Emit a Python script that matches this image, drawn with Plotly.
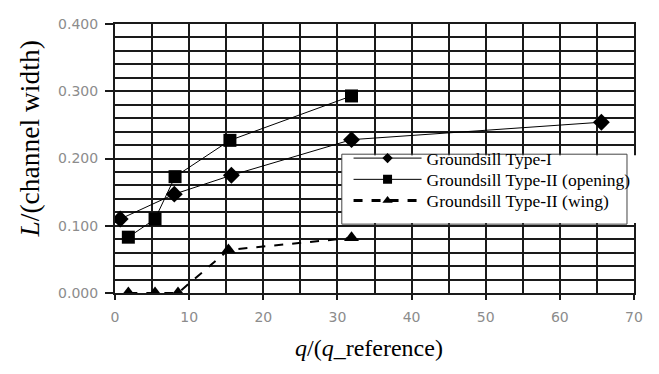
import plotly.graph_objects as go

# Data
type1_x = [0.7, 8.0, 15.7, 31.9, 65.6]
type1_y = [0.110, 0.147, 0.175, 0.228, 0.254]

open_x = [1.8, 5.4, 8.1, 15.5, 31.9]
open_y = [0.083, 0.110, 0.173, 0.227, 0.293]

wing_x = [1.8, 5.4, 8.5, 15.3, 31.9]
wing_y = [0.000, 0.000, 0.000, 0.064, 0.082]

series_names = ["Groundsill Type-I", "Groundsill Type-II (opening)", "Groundsill Type-II (wing)"]

x_title = "<i>q</i>/(<i>q</i>_reference)"
y_title = "<i>L</i>/(channel width)"

serif = "Liberation Serif, Times New Roman, serif"

styles = [
    dict(symbol="diamond", line=dict(color="black", width=1)),
    dict(symbol="square", line=dict(color="black", width=1)),
    dict(symbol="triangle-up", line=dict(color="black", width=2, dash="dash")),
]
legend_styles = [
    dict(symbol="diamond", size=8, line=dict(color="black", width=1)),
    dict(symbol="square", size=9, line=dict(color="black", width=1)),
    dict(symbol="triangle-up", size=9, line=dict(color="black", width=3, dash="dash")),
]
series = [(type1_x, type1_y), (open_x, open_y), (wing_x, wing_y)]
legend_ids = ["legend", "legend2", "legend3"]
legend_rows_y = [0.501, 0.422, 0.343]

fig = go.Figure()
for (xs, ys), st, name in zip(series, styles, series_names):
    fig.add_trace(go.Scatter(
        x=xs, y=ys, name=name, mode="lines+markers", showlegend=False,
        line=st["line"], marker=dict(symbol=st["symbol"], size=13, color="black"),
    ))
# legend-only entries with small symbols, one compact legend per row
for st, name, lid in zip(legend_styles, series_names, legend_ids):
    fig.add_trace(go.Scatter(
        x=[None], y=[None], name=name, mode="lines+markers", legend=lid,
        line=st["line"], marker=dict(symbol=st["symbol"], size=st["size"], color="black"),
    ))

grid_color = "#1a1a1a"
tick_font = dict(family="DejaVu Sans, sans-serif", size=14, color="#8c8c8c")

fig.update_xaxes(
    range=[0, 70], dtick=10, tick0=0,
    showgrid=True, gridcolor=grid_color, gridwidth=2,
    minor=dict(dtick=5, showgrid=True, gridcolor=grid_color, gridwidth=2),
    ticks="outside", ticklen=5, tickwidth=2, tickcolor=grid_color,
    showline=True, linecolor=grid_color, linewidth=2, mirror=True,
    zeroline=False, tickfont=tick_font, ticklabelstandoff=5,
)
fig.update_yaxes(
    range=[0, 0.4], dtick=0.1, tick0=0, tickformat=".3f",
    showgrid=True, gridcolor=grid_color, gridwidth=2,
    minor=dict(dtick=0.02, showgrid=True, gridcolor=grid_color, gridwidth=2),
    ticks="outside", ticklen=8, tickwidth=2, tickcolor=grid_color,
    showline=True, linecolor=grid_color, linewidth=2, mirror=True,
    zeroline=False, tickfont=tick_font, ticklabelstandoff=4,
)

fig.add_annotation(
    text=y_title, xref="paper", yref="paper",
    x=-0.164, y=0.574, xanchor="center", yanchor="middle",
    textangle=-90, showarrow=False,
    font=dict(family=serif, size=27.5, color="black"),
)
fig.add_annotation(
    text=x_title, xref="paper", yref="paper",
    x=0.49, y=-0.205, xanchor="center", yanchor="middle",
    showarrow=False,
    font=dict(family=serif, size=24, color="black"),
)

# legend box: white panel (covering the grid) and its outline
fig.add_shape(type="rect", xref="paper", yref="paper",
              x0=0.437, x1=1.025, y0=0.26, y1=0.512,
              fillcolor="white", line=dict(width=0), layer="above")
fig.add_shape(type="rect", xref="paper", yref="paper",
              x0=0.437, x1=0.9865, y0=0.256, y1=0.516,
              fillcolor="rgba(0,0,0,0)", line=dict(color="#444", width=1), layer="above")

legend_common = dict(
    x=0.45, xanchor="left", yanchor="middle",
    bgcolor="rgba(0,0,0,0)", borderwidth=0,
    font=dict(family=serif, size=17.5, color="black"),
    itemwidth=68, tracegroupgap=0,
)

# the page body has an 8px default margin, so the figure is sized to fit
fig.update_layout(
    width=651, height=366,
    margin=dict(l=107, r=25, t=8, b=81),
    plot_bgcolor="white", paper_bgcolor="white",
    showlegend=True,
    legend=dict(y=legend_rows_y[0], **legend_common),
    legend2=dict(y=legend_rows_y[1], **legend_common),
    legend3=dict(y=legend_rows_y[2], **legend_common),
)

fig.write_html("out.html")
